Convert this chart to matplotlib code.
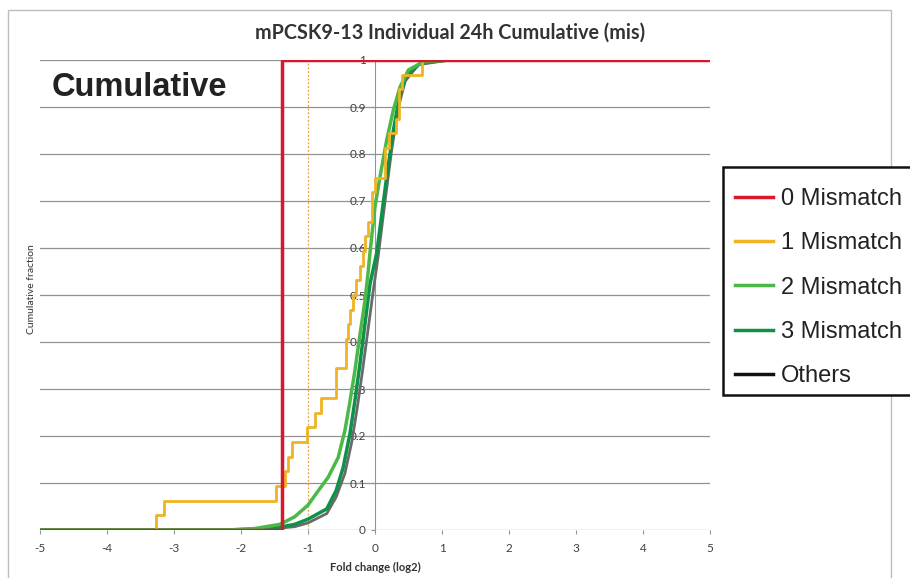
import matplotlib.pyplot as plt
import numpy as np
from matplotlib.patches import Rectangle

# 0 mismatch: single site
red_x = [-5, -1.39, -1.39, 5]
red_y = [0, 0, 1, 1]

# 1 mismatch: sorted fold changes (log2), 32 sites
mm1_fc = [-3.27, -3.15, -1.48, -1.35, -1.30, -1.24, -1.01, -0.89,
          -0.80, -0.585, -0.585, -0.43, -0.43, -0.40, -0.37, -0.33,
          -0.28, -0.22, -0.18, -0.15, -0.10, -0.05, -0.05, 0.0,
          0.15, 0.15, 0.21, 0.31, 0.36, 0.36, 0.41, 0.70]

# 2 mismatch cumulative curve
mm2_x = [-5, -2.2, -1.8, -1.42, -1.2, -1.0, -0.88, -0.70, -0.55, -0.45, -0.38,
         -0.30, -0.23, -0.15, -0.10, -0.075, 0.0, 0.075, 0.175, 0.275, 0.375,
         0.50, 0.72, 1.12, 5]
mm2_y = [0, 0, 0.003, 0.012, 0.028, 0.053, 0.077, 0.112, 0.154, 0.211, 0.268,
         0.339, 0.41, 0.488, 0.552, 0.59, 0.688, 0.752, 0.83, 0.894, 0.943,
         0.979, 0.996, 1.0, 1.0]

# 3 mismatch cumulative curve
mm3_x = [-5, -2.2, -1.8, -1.42, -1.2, -1.0, -0.72, -0.58, -0.475, -0.375,
         -0.30, -0.225, -0.15, -0.075, 0.025, 0.175, 0.275, 0.375, 0.475,
         0.675, 1.1, 5]
mm3_y = [0, 0, 0.002, 0.006, 0.012, 0.023, 0.045, 0.084, 0.133, 0.204,
         0.275, 0.353, 0.438, 0.523, 0.589, 0.752, 0.851, 0.929, 0.968,
         0.993, 1.0, 1.0]

# others
oth_x = [-5, -2.0, -1.5, -1.2, -1.0, -0.72, -0.58, -0.45, -0.35, -0.27, -0.19,
         -0.11, -0.03, 0.05, 0.15, 0.25, 0.35, 0.45, 0.65, 1.1, 5]
oth_y = [0, 0, 0.003, 0.007, 0.015, 0.035, 0.07, 0.12, 0.185, 0.255, 0.335,
         0.42, 0.505, 0.585, 0.70, 0.81, 0.90, 0.955, 0.99, 1.0, 1.0]

labels = ['0 Mismatch', '1 Mismatch', '2 Mismatch', '3 Mismatch', 'Others']
colors = ['#d7192b', '#f0b323', '#4cb847', '#0e9148', '#6a6a6a']

W, H = 910, 578
fig = plt.figure(figsize=(W / 100, H / 100), dpi=100)
fig.patches.append(Rectangle((8 / W, -0.05), (891 - 8) / W, (H - 10) / H + 0.05,
                             transform=fig.transFigure, fill=False,
                             edgecolor='#bdbdbd', linewidth=1.0))

ax = fig.add_axes([40 / W, 48 / H, 670 / W, 470 / H])
ax.set_xlim(-5, 5)
ax.set_ylim(0, 1)

for yv in np.arange(0, 1.01, 0.1):
    ax.axhline(yv, color='#939393', linewidth=0.9, zorder=1)
ax.axvline(-1, color='#e8a040', linewidth=0.9, linestyle=(0, (1.5, 1.5)), zorder=1)

for s in ['top', 'right', 'bottom']:
    ax.spines[s].set_visible(False)
ax.spines['left'].set_position(('data', 0))
ax.spines['left'].set_color('#939393')
ax.spines['left'].set_zorder(1)

ax.set_xticks(np.arange(-5, 6, 1))
ax.set_xticklabels(['-5', '-4', '-3', '-2', '-1', '0', '1', '2', '3', '4', '5'])
ax.set_yticks(np.arange(0, 1.01, 0.1))
ax.set_yticklabels(['0', '0.1', '0.2', '0.3', '0.4', '0.5', '0.6', '0.7', '0.8', '0.9', '1'])
ax.tick_params(axis='both', colors='#939393', labelcolor='#404040', labelsize=8.5,
               length=3)
ax.tick_params(axis='x', pad=6)
for t in ax.get_xticklabels() + ax.get_yticklabels():
    t.set_family('Lato')

# curves
ax.plot(oth_x, oth_y, color=colors[4], linewidth=2.0, zorder=3)
ax.plot(mm3_x, mm3_y, color=colors[3], linewidth=2.5, zorder=4)
ax.plot(mm2_x, mm2_y, color=colors[2], linewidth=2.5, zorder=5)

n1 = len(mm1_fc)
step_x = [-5] + mm1_fc + [5]
step_y = [0] + list(np.arange(1, n1 + 1) / n1) + [1]
ax.step(step_x, step_y, where='post', color=colors[1], linewidth=2.0, zorder=6)
ax.plot(red_x, red_y, color=colors[0], linewidth=2.5, zorder=7)

ax.set_xlabel('Fold change (log2)', fontsize=8, family='Lato', fontweight='bold',
              color='#333333', labelpad=6)
fig.text(32 / W, 0.5, 'Cumulative fraction', rotation=90, fontsize=7.5,
         family='Lato', color='#333333', ha='center', va='center')

fig.text(450 / W, 1 - 33 / H, 'mPCSK9-13 Individual 24h Cumulative (mis)',
         fontsize=14.2, family='Lato', fontweight='bold', color='#333333',
         ha='center', va='center')
fig.text(52 / W, 1 - 88 / H, 'Cumulative', fontsize=23.5, family='Liberation Sans',
         fontweight='bold', color='#222222', ha='left', va='center')

# legend box runs past the right edge
fig.patches.append(Rectangle((723 / W, 1 - 395 / H), 200 / W, 228 / H,
                             transform=fig.transFigure, facecolor='white',
                             edgecolor='#111111', linewidth=1.8, zorder=5))
handles = [plt.Line2D([], [], color=c, linewidth=2.5) for c in colors[:4]]
handles.append(plt.Line2D([], [], color='#111111', linewidth=2.5))
leg = fig.legend(handles, labels, loc='upper left',
                 bbox_to_anchor=(735 / W, 1 - 188 / H),
                 prop={'family': 'Liberation Sans', 'size': 17},
                 frameon=False, handlelength=1.61, handletextpad=0.34,
                 labelspacing=0.945, borderpad=0, borderaxespad=0)
leg.set_zorder(6)
for t in leg.get_texts():
    t.set_color('#222222')

fig.savefig('out.png', dpi=100)
